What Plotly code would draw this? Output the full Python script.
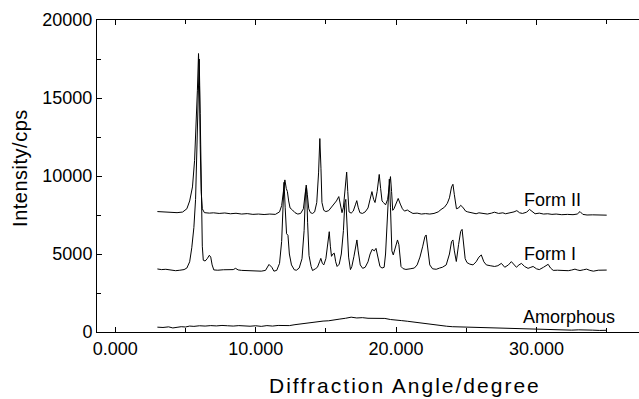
import plotly.graph_objects as go

# ---- data ----
form2_x = [3.0, 3.4, 3.8, 4.1, 4.4, 4.8, 5.1, 5.3, 5.5, 5.65, 5.75, 5.85, 5.93, 6.0, 6.05, 6.12, 6.2, 6.35, 6.7, 7.0,
           7.4, 7.8, 8.2, 8.6, 9.0, 9.4, 9.8, 10.2, 10.6, 11.0, 11.4, 11.7, 11.85, 11.98, 12.08, 12.18, 12.26, 12.35, 12.45, 12.62,
           12.8, 13.0, 13.2, 13.4, 13.52, 13.6, 13.68, 13.78, 13.9, 14.05, 14.2, 14.35, 14.48, 14.57, 14.65, 14.72, 14.85, 15.0, 15.2, 15.5,
           15.75, 15.92, 16.05, 16.15, 16.25, 16.38, 16.48, 16.56, 16.65, 16.8, 16.95, 17.1, 17.2, 17.3, 17.42, 17.6, 17.8, 18.0, 18.15, 18.28,
           18.4, 18.5, 18.65, 18.8, 18.9, 19.0, 19.1, 19.25, 19.4, 19.52, 19.6, 19.68, 19.76, 19.85, 20.0, 20.15, 20.3, 20.45, 20.6, 20.8,
           21.0, 21.2, 21.5, 21.8, 22.1, 22.4, 22.7, 23.0, 23.2, 23.45, 23.65, 23.8, 23.95, 24.05, 24.15, 24.3, 24.45, 24.6, 24.75, 24.95,
           25.1, 25.4, 25.7, 25.9, 26.2, 26.5, 26.8, 27.0, 27.3, 27.6, 27.8, 28.1, 28.4, 28.6, 28.8, 29.0, 29.3, 29.5, 29.7, 29.9,
           30.2, 30.5, 30.8, 31.1, 31.4, 31.8, 32.2, 32.6, 32.9, 33.1, 33.3, 33.6, 34.0, 34.4, 34.8, 35.0]
form2_y = [7720, 7700, 7680, 7620, 7650, 7690, 7900, 8400, 9300, 11000, 12800, 15500, 17850, 15800, 12000, 9000, 7900, 7650, 7620, 7640,
           7600, 7630, 7580, 7610, 7560, 7590, 7540, 7560, 7530, 7560, 7540, 7700, 8100, 9100, 9750, 9200, 9000, 8400, 7950, 7820,
           7650, 7560, 7600, 7900, 8700, 9420, 8800, 7900, 7650, 7600, 7700, 8300, 10200, 12400, 10500, 8300, 7800, 7720, 7780, 8100,
           8400, 8680, 8100, 7650, 8000, 9400, 10250, 9000, 7700, 7620, 7750, 8150, 8420, 8000, 7650, 7600, 7700, 7950, 8600, 9000,
           8500, 8300, 9000, 10100, 9200, 8400, 8300, 8150, 8500, 9500, 9960, 9000, 7800, 7900, 8300, 8560, 8200, 7900, 7750, 7820,
           7700, 7600, 7620, 7560, 7590, 7560, 7600, 7700, 7850, 8000, 8250, 8600, 9300, 9470, 8800, 7900, 7950, 8120, 8000, 7750,
           7700, 7620, 7580, 7640, 7600, 7560, 7620, 7680, 7600, 7640, 7580, 7620, 7700, 7780, 7640, 7600, 7680, 7860, 7700, 7580,
           7620, 7560, 7580, 7540, 7560, 7520, 7540, 7520, 7560, 7720, 7540, 7500, 7510, 7490, 7480, 7490]

form1_x = [3.0, 3.3, 3.6, 4.0, 4.3, 4.6, 4.9, 5.1, 5.3, 5.45, 5.6, 5.72, 5.82, 5.92, 5.98, 6.05, 6.12, 6.2, 6.27, 6.4,
           6.55, 6.7, 6.8, 6.9, 7.02, 7.3, 7.7, 8.1, 8.4, 8.57, 8.75, 9.0, 9.5, 10.0, 10.4, 10.7, 10.95, 11.15, 11.3, 11.5,
           11.7, 11.85, 11.95, 12.02, 12.1, 12.2, 12.3, 12.4, 12.55, 12.75, 12.9, 13.1, 13.3, 13.45, 13.55, 13.62, 13.7, 13.8, 13.95, 14.05,
           14.25, 14.4, 14.55, 14.64, 14.75, 14.85, 15.0, 15.15, 15.24, 15.32, 15.4, 15.5, 15.6, 15.7, 15.8, 15.95, 16.1, 16.25, 16.35, 16.42,
           16.52, 16.62, 16.75, 16.85, 17.0, 17.12, 17.21, 17.3, 17.45, 17.62, 17.8, 18.0, 18.15, 18.3, 18.45, 18.57, 18.7, 18.85, 19.0, 19.15,
           19.25, 19.35, 19.45, 19.52, 19.6, 19.7, 19.8, 19.95, 20.1, 20.2, 20.35, 20.5, 20.7, 21.0, 21.3, 21.5, 21.7, 21.9, 22.05, 22.14,
           22.25, 22.4, 22.6, 22.86, 23.1, 23.3, 23.57, 23.8, 23.95, 24.05, 24.15, 24.29, 24.45, 24.6, 24.7, 24.8, 24.92, 25.05, 25.25, 25.48,
           25.7, 25.9, 26.07, 26.25, 26.43, 26.7, 27.02, 27.25, 27.5, 27.74, 28.0, 28.21, 28.4, 28.57, 28.75, 28.93, 29.15, 29.4, 29.6, 29.76,
           30.0, 30.2, 30.5, 30.72, 30.83, 31.0, 31.19, 31.5, 31.8, 32.0, 32.26, 32.5, 32.74, 32.9, 33.1, 33.35, 33.57, 33.8, 34.05, 34.4,
           34.7, 35.0]
form1_y = [4040, 4000, 4020, 3970, 3930, 3960, 4000, 4100, 4500, 5400, 6700, 8500, 11500, 15000, 17500, 14000, 9000, 5500, 4600, 4550,
           4700, 4920, 4800, 4300, 3980, 3960, 3990, 3970, 4000, 4080, 3980, 3950, 3930, 3920, 3900, 3950, 4330, 4150, 3900, 3950,
           4400, 5800, 8200, 9600, 8000, 6300, 6200, 5000, 4300, 3990, 3960, 4100, 4700, 6500, 9000, 9300, 7000, 4900, 4200, 3940,
           4050, 4150, 4500, 4720, 4400, 4300, 4700, 5800, 6430, 5500, 4850, 5000, 5050, 4500, 4200, 4350, 5000, 6500, 8300, 8500,
           7000, 4800, 4000, 4200, 4850, 5600, 5900, 5200, 4300, 4080, 4150, 4500, 5000, 5300, 5200, 5360, 4800, 4200, 4100, 4150,
           5000, 7000, 9200, 9800, 8000, 5200, 4940, 5500, 5900, 5600, 4200, 4060, 4010, 4050, 4100, 4300, 4800, 5500, 6100, 6220,
           5500, 4300, 4050, 4020, 4100, 4150, 4300, 5000, 5800, 5900, 5200, 4520, 5600, 6450, 6580, 5800, 4700, 4450, 4350, 4300,
           4500, 4800, 4940, 4500, 4300, 4250, 4200, 4250, 4400, 4150, 4300, 4510, 4300, 4150, 4300, 4400, 4200, 4080, 4150, 4200,
           4050, 4000, 4150, 4250, 4340, 4100, 3950, 3960, 3940, 3920, 3930, 3970, 4030, 3980, 3940, 3990, 4030, 3950, 3900, 3960,
           3970, 3970]

amor_x = [3.0, 3.4, 3.8, 4.1, 4.4, 4.7, 5.0, 5.3, 5.6, 6.0, 6.4, 6.8, 7.2, 7.6, 8.0, 8.4, 8.8, 9.2, 9.6, 10.0,
          10.4, 10.8, 11.2, 11.6, 12.0, 12.4, 12.8, 13.2, 13.6, 14.0, 14.4, 14.8, 15.2, 15.6, 16.0, 16.4, 16.8, 17.2, 17.6, 18.0,
          18.4, 18.8, 19.2, 19.6, 20.0, 20.4, 20.8, 21.2, 21.6, 22.0, 22.4, 22.8, 23.2, 23.6, 24.0, 24.4, 24.8, 25.2, 25.6, 26.0,
          26.5, 27.0, 27.5, 28.0, 28.5, 29.0, 29.5, 30.0, 30.5, 31.0, 31.5, 32.0, 32.5, 33.0, 33.5, 34.0, 34.5, 35.0]
amor_y = [310, 290, 330, 260, 300, 340, 320, 380, 360, 400, 380, 410, 390, 420, 400, 380, 410, 390, 370, 400,
          360, 410, 380, 420, 430, 410, 470, 520, 540, 600, 640, 700, 720, 790, 830, 880, 950, 900, 920, 880,
          890, 860, 870, 800, 780, 730, 690, 640, 580, 540, 480, 450, 400, 370, 340, 330, 300, 290, 260, 270,
          240, 250, 220, 230, 200, 210, 170, 190, 150, 170, 140, 150, 120, 140, 110, 120, 100, 110]

series_names = ["Form II", "Form I", "Amorphous"]
label_x = [29.0, 29.0, 28.9]
label_y = [8450, 5000, 960]

x_tick_vals = [0, 10, 20, 30]
x_tick_text = ["0.000", "10.000", "20.000", "30.000"]
x_minor_vals = [5, 15, 25, 35]
y_tick_vals = [0, 5000, 10000, 15000, 20000]
y_tick_text = ["0", "5000", "10000", "15000", "20000"]
y_minor_vals = [2500, 7500, 12500, 17500]

FONT = "Liberation Sans, Arial, Helvetica, sans-serif"

fig = go.Figure()
for xs, ys, nm in [(form2_x, form2_y, series_names[0]),
                   (form1_x, form1_y, series_names[1]),
                   (amor_x, amor_y, series_names[2])]:
    fig.add_trace(go.Scatter(x=xs, y=ys, mode="lines", name=nm,
                             line=dict(color="black", width=1), showlegend=False))

for nm, lx, ly in zip(series_names, label_x, label_y):
    fig.add_annotation(x=lx, y=ly, text=nm, showarrow=False, xanchor="left", yanchor="middle",
                       font=dict(family=FONT, size=18, color="black"))

# axis titles
fig.add_annotation(xref="paper", yref="paper", x=0.568, y=0, yshift=-53,
                   text='<span style="letter-spacing:2px">Diffraction Angle/degree</span>',
                   showarrow=False, xanchor="center", yanchor="middle",
                   font=dict(family=FONT, size=21, color="black"))
fig.add_annotation(xref="paper", yref="paper", x=0, xshift=-77, y=0.526,
                   text='<span style="letter-spacing:0.5px">Intensity/cps</span>',
                   showarrow=False, xanchor="center", yanchor="middle", textangle=-90,
                   font=dict(family=FONT, size=20, color="black"))

fig.update_layout(
    width=639, height=399,
    margin=dict(l=97, r=0, t=20, b=67),
    paper_bgcolor="white", plot_bgcolor="white",
    font=dict(family=FONT, size=18, color="black"),
    xaxis=dict(range=[-1.3, 37.3], showgrid=False, zeroline=False,
               showline=True, linecolor="black", linewidth=1, mirror="ticks",
               ticks="inside", ticklen=5, tickcolor="black",
               tickmode="array", tickvals=x_tick_vals, ticktext=x_tick_text,
               tickfont=dict(size=18),
               minor=dict(tickmode="array", tickvals=x_minor_vals, ticks="inside", ticklen=4, tickcolor="black")),
    yaxis=dict(range=[0, 20000], showgrid=False, zeroline=False,
               showline=True, linecolor="black", linewidth=1,
               ticks="inside", ticklen=5, tickcolor="black",
               tickmode="array", tickvals=y_tick_vals, ticktext=y_tick_text,
               tickfont=dict(size=18),
               minor=dict(tickmode="array", tickvals=y_minor_vals, ticks="inside", ticklen=4, tickcolor="black")),
)

fig.write_html("out.html")
